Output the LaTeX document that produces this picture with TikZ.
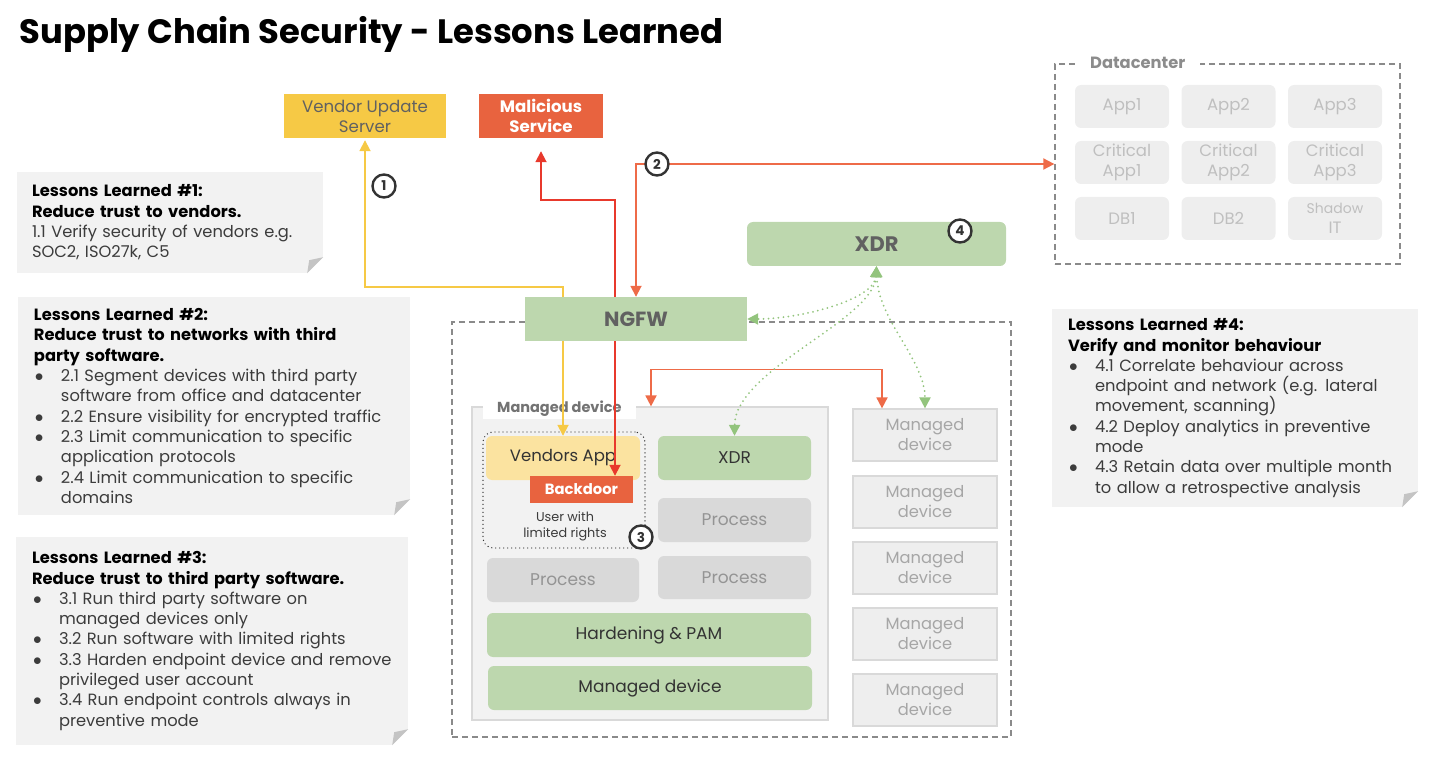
\documentclass[tikz,border=0pt]{standalone}
\usepackage{fontspec}
\setmainfont{Poppins}
\usetikzlibrary{arrows.meta,positioning}

\definecolor{cyellow}{HTML}{F6C945}
\definecolor{clyellow}{HTML}{FBE3A0}
\definecolor{corange}{HTML}{E8633F}
\definecolor{cred}{HTML}{E8392C}
\definecolor{clink}{HTML}{EE6B48}
\definecolor{cgreen}{HTML}{BDD7AE}
\definecolor{cgarrow}{HTML}{93C47D}
\definecolor{cnote}{HTML}{F2F2F2}
\definecolor{cfold}{HTML}{C4C4C4}
\definecolor{cproc}{HTML}{D9D9D9}
\definecolor{cpale}{HTML}{EEEEEE}
\definecolor{cpaleline}{HTML}{D9D9D9}
\definecolor{cdash}{HTML}{8A8A8A}
\definecolor{cdark}{HTML}{333333}
\definecolor{cbody}{HTML}{3C3C3C}

\newcommand\llitem[1]{\par\noindent\rightskip=-24pt plus 1fil\hangindent=27pt\hangafter=1%
  \makebox[27pt][l]{\hspace{1pt}$\bullet$}#1\par}
\newcommand\foldnote[1]{%
  \fill[white] (#1.south east) -- ++(-16,0) -- ++(16,-16) -- cycle;
  \fill[cfold] (#1.south east) ++(-16,0) -- ++(16,-16) -- ++(-14,3) -- cycle;}

\begin{document}
\begin{tikzpicture}[x=1pt,y=-1pt,>={Triangle[length=11pt,width=11pt]},
    wh/.style 2 args={minimum width=#1,minimum height=#2,inner sep=0pt},
    note/.style={fill=cnote,align=left,inner xsep=16pt,inner ysep=0pt,text=cbody,
      font=\fontsize{16.3}{20.3}\selectfont},
    greenbox/.style={fill=cgreen,rounded corners=6pt,text=cdark,font=\fontsize{17}{20}\selectfont},
    procbox/.style={fill=cproc,rounded corners=6pt,text=black!42,font=\fontsize{17}{20}\selectfont},
    dcbox/.style={fill=cpale,rounded corners=6pt,wh={94}{43},align=center,text=black!25,
      font=\fontsize{16.5}{19.5}\selectfont},
    rdev/.style={fill=cpale,draw=cpaleline,line width=1.2pt,wh={144}{52},align=center,
      text=black!35,font=\fontsize{16.3}{20}\selectfont},
    dashbox/.style={draw=cdash,line width=1.3pt,dash pattern=on 6pt off 4pt},
    boxlabel/.style={fill=white,text=black!55,inner ysep=2pt,font=\fontsize{14.5}{16}\bfseries},
    ylink/.style={draw=cyellow,line width=1.8pt,<->,shorten >=2pt},
    rlink/.style={draw=cred,line width=1.8pt,<->},
    olink/.style={draw=clink,line width=1.8pt,<->},
    glink/.style={draw=cgarrow,line width=2pt,dash pattern=on 0pt off 5pt,line cap=round,<->},
    num/.style={circle,draw=cdark,line width=2.4pt,fill=white,minimum size=23pt,inner sep=0pt,
      text=cdark,font=\fontsize{13.5}{14}\bfseries}]

\useasboundingbox (0,0) rectangle (1430,759);

\node[anchor=base west,font=\fontsize{33.8}{38}\bfseries] (title) at (16,44) {Supply Chain Security - Lessons Learned};

\node[note,wh={306}{101},inner xsep=15pt,text width=276pt] (ll_1) at (170,222.5) {%
  \textcolor{black}{\bfseries Lessons Learned \#1:\\ Reduce trust to vendors.}\\
  1.1 Verify security of vendors e.g.\\ SOC2, ISO27k, C5};
\foldnote{ll_1}

\node[note,wh={392}{218},inner xsep=16pt,text width=360pt] (ll_2) at (214,406) {%
  \textcolor{black}{\bfseries Lessons Learned \#2:\\ Reduce trust to networks with third\\ party software.}
  \llitem{2.1 Segment devices with third party\newline software from office and datacenter}
  \llitem{2.2 Ensure visibility for encrypted traffic}
  \llitem{2.3 Limit communication to specific\newline application protocols}
  \llitem{2.4 Limit communication to specific\newline domains}};
\foldnote{ll_2}

\node[note,wh={392}{208},inner xsep=16pt,text width=360pt] (ll_3) at (212,641) {%
  \textcolor{black}{\bfseries Lessons Learned \#3:\\ Reduce trust to third party software.}
  \llitem{3.1 Run third party software on\newline managed devices only}
  \llitem{3.2 Run software with limited rights}
  \llitem{3.3 Harden endpoint device and remove\newline privileged user account}
  \llitem{3.4 Run endpoint controls always in\newline preventive mode}};
\foldnote{ll_3}

\node[note,wh={366}{198},inner xsep=16pt,text width=334pt] (ll_4) at (1235,408) {%
  \textcolor{black}{\bfseries Lessons Learned \#4:\\ Verify and monitor behaviour}
  \llitem{4.1 Correlate behaviour across\newline endpoint and network (e.g. lateral\newline movement, scanning)}
  \llitem{4.2 Deploy analytics in preventive\newline mode}
  \llitem{4.3 Retain data over multiple month\newline to allow a retrospective analysis}};
\foldnote{ll_4}

\node[dashbox,wh={345}{200}] (dc) at (1227.5,164) {};
\node[boxlabel,anchor=west,inner xsep=15pt,font=\fontsize{16.3}{18}\bfseries,text=black!45] (dc_label) at (1075,63) {Datacenter};
\foreach \lbl/\cx/\cy [count=\i] in {App1/1122/106.5,App2/1228.5/106.5,App3/1335/106.5,
    Critical\\App1/1122/162.5,Critical\\App2/1228.5/162.5,Critical\\App3/1335/162.5,
    DB1/1122/218.5,DB2/1228.5/218.5,{\fontsize{14}{15}\selectfont Shadow\\IT}/1335/218.5}
  \node[dcbox] (app_\i) at (\cx,\cy) {\lbl};

\node[dashbox,wh={559}{415}] (net) at (731.5,529.5) {};
\node[fill=cnote,draw=cpaleline,line width=1.2pt,wh={356}{313}] (mdev) at (650,563.5) {};
\node[boxlabel,anchor=west,inner xsep=14pt] (mdev_label) at (483,409) {Managed device};

\node[draw=cdark,line width=1.4pt,dash pattern=on 0pt off 4pt,line cap=round,rounded corners=10pt,wh={162}{116}] (user) at (564,490) {};
\node[fill=clyellow,rounded corners=6pt,wh={154}{44},text=cdark,font=\fontsize{16.5}{19}\selectfont] (vapp) at (563,458) {Vendors App};
\node[fill=corange,wh={103}{27},text=white,font=\fontsize{14.8}{16}\bfseries] (backdoor) at (581.5,489.5) {Backdoor};
\node[align=center,text=cbody,font=\fontsize{12.8}{16}\selectfont] (user_text) at (565,526) {User with\\limited rights};
\node[greenbox,wh={153}{44}] (xdr_in) at (734.5,458) {XDR};
\node[procbox,wh={153}{44}] (proc_1) at (734.5,520) {Process};
\node[procbox,wh={152}{44}] (proc_2) at (563,580) {Process};
\node[procbox,wh={153}{43}] (proc_3) at (734.5,577.5) {Process};
\node[greenbox,wh={324}{44}] (hard) at (649,635) {Hardening \& PAM};
\node[greenbox,wh={324}{44}] (mdev_in) at (650,688) {Managed device};

\foreach \y [count=\i] in {435,502,568,634,700}
  \node[rdev] (rdev_\i) at (925,\y) {Managed\\device};

\node[fill=cyellow,wh={162}{44},align=center,text=black!62,font=\fontsize{16.6}{20}\selectfont] (vendor) at (365,116) {Vendor Update\\Server};
\node[fill=corange,wh={124}{44},align=center,text=white,font=\fontsize{16.6}{20}\bfseries] (malicious) at (541,116) {Malicious\\Service};

\draw[ylink] (vapp.north) -- ++(0,-149) -| (vendor.south);
\draw[rlink,shorten >=13pt] ([xshift=33.5pt]backdoor.north) -- ++(0,-276) -| (malicious.south);

\node[fill=cgreen,wh={222}{44},text=black!62,font=\fontsize{20.5}{23}\bfseries] (ngfw) at (636,319) {NGFW};
\node[fill=cgreen,rounded corners=6pt,wh={259}{44},text=black!62,font=\fontsize{21}{23}\bfseries] (xdr) at (876.5,244) {XDR};

\draw[olink] (ngfw.north) |- (dc.west);
\draw[olink] ([xshift=1pt]mdev.north) -- ++(0,-37) -| ([xshift=-43pt]rdev_1.north);
\draw[glink] (xdr.south) .. controls (874,300) and (800,319) .. (ngfw.east);
\draw[glink] (xdr.south) .. controls (874,320) and (735,370) .. (xdr_in.north);
\draw[glink] (xdr.south) .. controls (878,320) and (925,360) .. (rdev_1.north);

\node[num] (n_1) at (384,186) {1};
\node[num] (n_2) at (657,164) {2};
\node[num] (n_3) at (641,537) {3};
\node[num] (n_4) at (960,231) {4};
\end{tikzpicture}
\end{document}
